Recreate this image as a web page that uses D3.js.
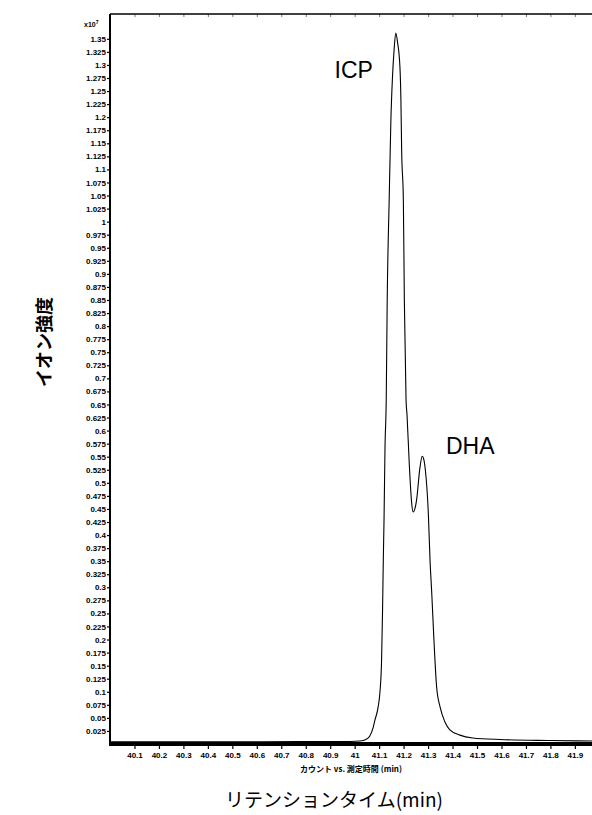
<!DOCTYPE html>
<html>
<head>
<meta charset="utf-8">
<script src="https://cdn.jsdelivr.net/npm/d3@7"></script>
<style>
  body { margin: 0; background: #fff; }
  svg { display: block; }
</style>
</head>
<body>
<div class="plot"></div>
<script>
// retention time (min)
const retentionTime = [
    40.0, 40.368, 40.776, 40.981, 41.022, 41.046, 41.062, 41.076, 41.083, 41.096,
    41.103, 41.110, 41.114, 41.117, 41.120, 41.124, 41.129, 41.133, 41.141, 41.148,
    41.154, 41.161, 41.168, 41.175, 41.185, 41.189, 41.192, 41.199, 41.203, 41.210,
    41.214, 41.223, 41.233, 41.239, 41.246, 41.253, 41.267, 41.276, 41.283, 41.289,
    41.301, 41.308, 41.315, 41.324, 41.335, 41.349, 41.369, 41.389, 41.430, 41.483,
    41.594, 41.798, 41.970
];
// ion intensity (x10^7 counts)
const intensity = [
    0.0042, 0.004, 0.0046, 0.0048, 0.0057, 0.0086, 0.0153, 0.0325, 0.046, 0.071,
    0.0976, 0.161, 0.257, 0.352, 0.429, 0.569, 0.659, 0.850, 1.041, 1.194,
    1.271, 1.328, 1.361, 1.344, 1.296, 1.233, 1.137, 1.041, 0.850, 0.659,
    0.630, 0.538, 0.461, 0.444, 0.450, 0.467, 0.530, 0.551, 0.544, 0.524,
    0.442, 0.352, 0.289, 0.199, 0.109, 0.071, 0.042, 0.027, 0.017, 0.0115,
    0.0086, 0.0067, 0.0057
];

const xTicks = [40.1, 40.2, 40.3, 40.4, 40.5, 40.6, 40.7, 40.8, 40.9, 41,
    41.1, 41.2, 41.3, 41.4, 41.5, 41.6, 41.7, 41.8, 41.9];
const yTicks = d3.range(1, 55).map((i) => +(i * 0.025).toFixed(3));

const peakLabels = ["ICP", "DHA"];
const peakLabelPos = [[40.918, 1.275], [41.373, 0.555]];

const width = 592;
const height = 815;
const plotLeft = 110;
const plotTop = 14;
const plotBottom = 744;

const svg = d3
    .select(".plot")
    .append("svg")
    .attr("width", width)
    .attr("height", height);

const xScale = d3.scaleLinear().domain([40, 41.97]).range([plotLeft, width]);
const yScale = d3.scaleLinear().domain([0, 1.3975]).range([plotBottom, plotTop]);

const tickFont = "bold 8px 'Liberation Sans', Arial, sans-serif";
const fmt = (d) => String(+d.toFixed(3));

// y axis
const yAxis = svg
    .append("g")
    .attr("transform", `translate(${plotLeft}, 0)`)
    .call(
        d3.axisLeft(yScale)
            .tickValues(yTicks)
            .tickSize(3)
            .tickPadding(1)
            .tickFormat(fmt)
    );
yAxis.select(".domain").remove();
yAxis.selectAll("text").style("font", tickFont).attr("fill", "#000");
yAxis.selectAll("line").attr("stroke", "#000").attr("stroke-width", 1.2);

// x axis
const xAxis = svg
    .append("g")
    .attr("transform", `translate(0, ${plotBottom})`)
    .call(
        d3.axisBottom(xScale)
            .tickValues(xTicks)
            .tickSize(5)
            .tickPadding(3)
            .tickFormat(fmt)
    );
xAxis.select(".domain").remove();
xAxis.selectAll("text").style("font", tickFont).attr("fill", "#000");
xAxis.selectAll("line").attr("stroke", "#000").attr("stroke-width", 1.2);

// small inner ticks on the top frame
const topAxis = svg
    .append("g")
    .attr("transform", `translate(0, ${plotTop})`)
    .call(d3.axisTop(xScale).tickValues(xTicks).tickSize(-3).tickFormat(""));
topAxis.select(".domain").remove();
topAxis.selectAll("line").attr("stroke", "#555").attr("stroke-width", 0.8);

// frame
svg.append("line")
    .attr("x1", plotLeft).attr("x2", width)
    .attr("y1", plotTop).attr("y2", plotTop)
    .attr("stroke", "#000").attr("stroke-width", 1.5);
svg.append("line")
    .attr("x1", plotLeft).attr("x2", plotLeft)
    .attr("y1", plotTop).attr("y2", plotBottom)
    .attr("stroke", "#000").attr("stroke-width", 2);
svg.append("rect")
    .attr("x", plotLeft - 1).attr("y", plotBottom - 2)
    .attr("width", width - plotLeft + 1).attr("height", 4)
    .attr("fill", "#000");

// chromatogram
const line = d3
    .line()
    .x((d, i) => xScale(retentionTime[i]))
    .y((d) => yScale(d))
    .curve(d3.curveMonotoneX);

svg.append("path")
    .datum(intensity)
    .attr("d", line)
    .attr("fill", "none")
    .attr("stroke", "#000")
    .attr("stroke-width", 1.1);

// peak labels
svg.selectAll(".peak")
    .data(peakLabels)
    .join("text")
    .attr("class", "peak")
    .attr("x", (d, i) => xScale(peakLabelPos[i][0]))
    .attr("y", (d, i) => yScale(peakLabelPos[i][1]))
    .text((d) => d)
    .style("font", "23px 'Liberation Sans', Arial, sans-serif");

// x10^7 multiplier
const mult = svg.append("text")
    .attr("x", 84)
    .attr("y", 27)
    .style("font", "bold 7px 'Liberation Sans', Arial, sans-serif");
mult.append("tspan").text("x10");
mult.append("tspan").attr("dy", -3).style("font-size", "5px").text("7");

// sub caption under the axis
svg.append("text")
    .attr("x", 351)
    .attr("y", 772)
    .attr("text-anchor", "middle")
    .style("font", "bold 8px 'Noto Sans CJK JP', sans-serif")
    .text("カウント vs. 測定時間 (min)");

// axis titles
svg.append("text")
    .attr("x", 334)
    .attr("y", 807)
    .attr("text-anchor", "middle")
    .style("font", "19px 'Noto Sans CJK JP', sans-serif")
    .text("リテンションタイム(min)");

svg.append("text")
    .attr("transform", "translate(51, 342) rotate(-90)")
    .attr("text-anchor", "middle")
    .style("font", "bold 18px 'Noto Sans CJK JP', sans-serif")
    .text("イオン強度");
</script>
</body>
</html>
